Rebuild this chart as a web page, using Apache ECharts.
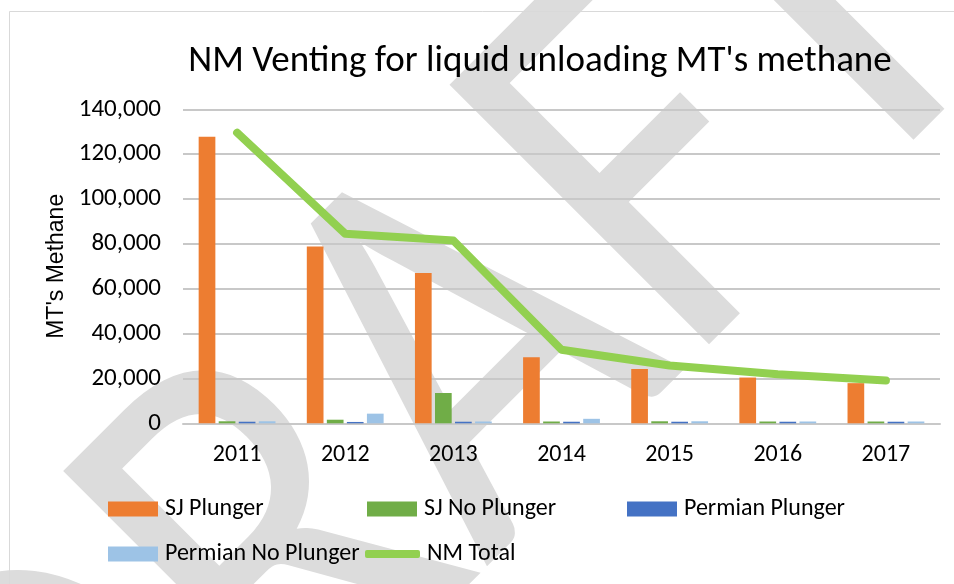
<!DOCTYPE html>
<html>
<head>
<meta charset="utf-8">
<script src="https://cdn.jsdelivr.net/npm/echarts@6/dist/echarts.min.js"></script>
<style>
  html, body { margin: 0; padding: 0; background: #fff; }
  #chart { width: 954px; height: 584px; }
</style>
</head>
<body>
<div id="chart"></div>
<script>
// Yearly methane vented during liquid unloading, New Mexico (metric tons)
const years = ['2011', '2012', '2013', '2014', '2015', '2016', '2017'];
const sjPlunger = [127800, 78800, 67000, 29500, 24200, 20400, 17900];
const sjNoPlunger = [900, 1600, 13500, 800, 900, 800, 800];
const permianPlunger = [700, 600, 700, 700, 700, 700, 700];
const permianNoPlunger = [900, 4300, 800, 2000, 900, 800, 800];
const nmTotal = [129600, 84500, 81500, 32800, 25800, 21900, 19100];
const yTicks = [0, 20000, 40000, 60000, 80000, 100000, 120000, 140000];

const FONT = 'Carlito, Lato, sans-serif';
const chart = echarts.init(document.getElementById('chart'));

function fmt(v) {
  return String(v).replace(/\B(?=(\d{3})+(?!\d))/g, ',');
}

function barSeries(name, data, color) {
  return {
    name: name,
    type: 'bar',
    data: data,
    barWidth: 16.7,
    barGap: '20%',
    itemStyle: { color: color },
    z: 3
  };
}

function legendAt(name, left, top, opts) {
  return Object.assign({
    data: [name],
    left: left,
    top: top,
    padding: 0,
    itemWidth: 50,
    itemHeight: 15,
    itemGap: 0,
    icon: 'rect',
    textStyle: { fontFamily: FONT, fontSize: 24, color: '#000', padding: [0, 0, 0, 2] },
    selectedMode: false
  }, opts || {});
}

chart.setOption({
  animation: false,
  backgroundColor: '#fff',
  title: {
    text: "NM Venting for liquid unloading MT's methane",
    left: 540,
    top: 43,
    padding: 0,
    textAlign: 'center',
    textStyle: { fontFamily: FONT, fontSize: 37, fontWeight: 'normal', color: '#000' }
  },
  graphic: {
    elements: [
      {
        // diagonal "DRAFT" stamp behind the plot
        type: 'text',
        x: 448, y: 403,
        rotation: Math.PI / 4,
        scaleX: 0.855,
        z: -10,
        silent: true,
        style: {
          text: 'DRAFT',
          fontFamily: FONT,
          fontSize: 572,
          fill: '#dcdcdc',
          textAlign: 'center',
          textVerticalAlign: 'middle'
        }
      },
      {
        type: 'rect',
        z: -5,
        silent: true,
        shape: { x: 9.5, y: 11.5, width: 1000, height: 1000 },
        style: { fill: 'none', stroke: '#d9d9d9', lineWidth: 1 }
      }
    ]
  },
  legend: [
    legendAt('SJ Plunger', 108, 497),
    legendAt('SJ No Plunger', 367, 497),
    legendAt('Permian Plunger', 627, 497),
    legendAt('Permian No Plunger', 108, 542),
    legendAt('NM Total', 365, 542, { icon: 'roundRect', itemWidth: 55, itemHeight: 8 })
  ],
  grid: { left: 183, right: 14, top: 109.3, bottom: 160.7, containLabel: false },
  xAxis: {
    type: 'category',
    data: years,
    axisLine: { lineStyle: { color: '#c8c8c8', width: 2 } },
    axisTick: { show: false },
    axisLabel: { fontFamily: FONT, fontSize: 24, color: '#000', margin: 20 }
  },
  yAxis: {
    type: 'value',
    min: yTicks[0],
    max: yTicks[yTicks.length - 1],
    interval: yTicks[1] - yTicks[0],
    name: "MT's Methane",
    nameLocation: 'middle',
    nameRotate: 90,
    nameGap: 113,
    nameTextStyle: { fontFamily: 'Liberation Sans, Arial, sans-serif', fontSize: 23, color: '#000' },
    axisLine: { show: false },
    axisTick: { show: false },
    axisLabel: { fontFamily: FONT, fontSize: 25, color: '#000', margin: 22, formatter: fmt },
    splitLine: { lineStyle: { color: '#c8c8c8', width: 2 } }
  },
  series: [
    barSeries('SJ Plunger', sjPlunger, '#ED7D31'),
    barSeries('SJ No Plunger', sjNoPlunger, '#70AD47'),
    barSeries('Permian Plunger', permianPlunger, '#4472C4'),
    barSeries('Permian No Plunger', permianNoPlunger, '#9DC3E6'),
    {
      name: 'NM Total',
      type: 'line',
      data: nmTotal,
      showSymbol: false,
      symbol: 'none',
      itemStyle: { color: '#92D050' },
      lineStyle: { color: '#92D050', width: 8, cap: 'round', join: 'round' },
      z: 5
    }
  ]
});
</script>
</body>
</html>
